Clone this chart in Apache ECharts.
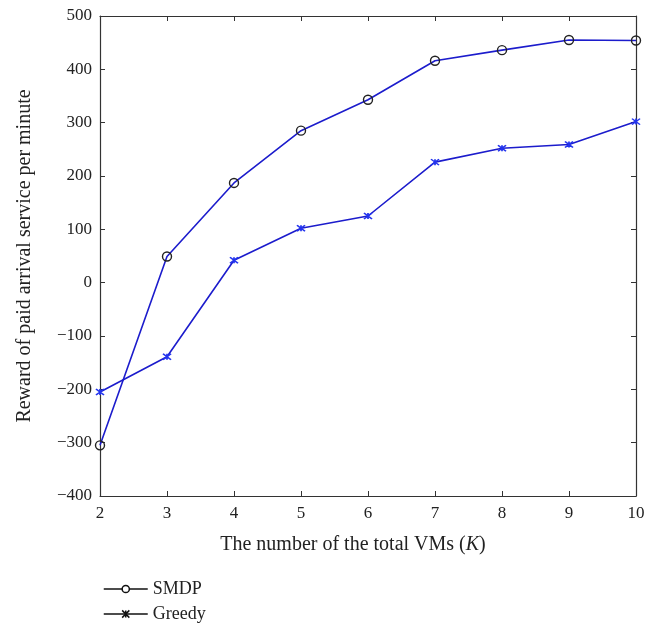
<!DOCTYPE html>
<html><head><meta charset="utf-8">
<script src="https://cdn.jsdelivr.net/npm/echarts@6/dist/echarts.min.js"></script>
<style>html,body{margin:0;padding:0;background:#fff}#c{width:662px;height:626px}</style>
</head><body><div id="c"></div>
<script>
const categories = [2, 3, 4, 5, 6, 7, 8, 9, 10];
const smdp = [-305, 49, 187, 285, 343, 416, 436, 455, 454];
const greedy = [-205, -139, 42, 102, 125, 226, 252, 259, 302];
const yTicks = [-400, -300, -200, -100, 0, 100, 200, 300, 400, 500];

const font = 'Liberation Serif, DejaVu Serif, serif';
const lineColor = '#1c1ccc';
const xMark = 'path://M0,0L10,10M10,0L0,10M5,0L5,10';

const chart = echarts.init(document.getElementById('c'));
const axisLine = {show: true, onZero: false, lineStyle: {color: '#333', width: 1.2}};
const tick = {show: true, inside: true, length: 5, lineStyle: {color: '#333'}};
chart.setOption({
  animation: false,
  grid: {left: 100, right: 26, top: 16, bottom: 130},
  legend: {
    orient: 'vertical', left: 98, top: 575, height: 60, itemWidth: 44, itemHeight: 9, itemGap: 7,
    textStyle: {fontFamily: font, fontSize: 18, color: '#222'},
    data: [
      {name: 'SMDP', itemStyle: {color: '#fff', borderColor: '#111', borderWidth: 1.5}, lineStyle: {color: '#111', width: 1.5}},
      {name: 'Greedy', itemStyle: {color: 'none', borderColor: '#111', borderWidth: 1.5}, lineStyle: {color: '#111', width: 1.5}}
    ]
  },
  xAxis: [{
    type: 'value', min: 2, max: 10, interval: 1,
    axisLine: axisLine, axisTick: tick, splitLine: {show: false},
    axisLabel: {fontFamily: font, fontSize: 17, color: '#222', margin: 9},
    name: 'The number of the total VMs ({i|K})', nameLocation: 'middle', nameGap: 39,
    nameTextStyle: {fontFamily: font, fontSize: 20, color: '#222', padding: [0, 30, 0, 0],
      rich: {i: {fontFamily: font, fontSize: 20, fontStyle: 'italic', color: '#222'}}}
  }, {
    type: 'value', position: 'top', min: 2, max: 10, interval: 1,
    axisLine: axisLine, axisTick: tick, axisLabel: {show: false}, splitLine: {show: false}
  }],
  yAxis: [{
    type: 'value', min: yTicks[0], max: yTicks[yTicks.length - 1], interval: 100,
    axisLine: axisLine, axisTick: tick, splitLine: {show: false},
    axisLabel: {fontFamily: font, fontSize: 17, color: '#222', margin: 8,
      formatter: v => v < 0 ? '\u2212' + Math.abs(v) : String(v)},
    name: 'Reward of paid arrival service per minute', nameLocation: 'middle', nameGap: 65,
    nameTextStyle: {fontFamily: font, fontSize: 20, color: '#222'}
  }, {
    type: 'value', position: 'right', min: yTicks[0], max: yTicks[yTicks.length - 1], interval: 100,
    axisLine: axisLine, axisTick: tick, axisLabel: {show: false}, splitLine: {show: false}
  }],
  series: [{
    name: 'SMDP', type: 'line', data: categories.map((c, i) => [c, smdp[i]]),
    symbol: 'circle', symbolSize: 9,
    lineStyle: {color: lineColor, width: 1.6},
    itemStyle: {color: 'rgba(0,0,0,0)', borderColor: '#222', borderWidth: 1.4},
    z: 3
  }, {
    name: 'Greedy', type: 'line', data: categories.map((c, i) => [c, greedy[i]]),
    symbol: xMark, symbolSize: [8, 6],
    lineStyle: {color: lineColor, width: 1.6},
    itemStyle: {color: 'none', borderColor: '#2233ee', borderWidth: 1.5},
    z: 3
  }]
});
</script></body></html>
